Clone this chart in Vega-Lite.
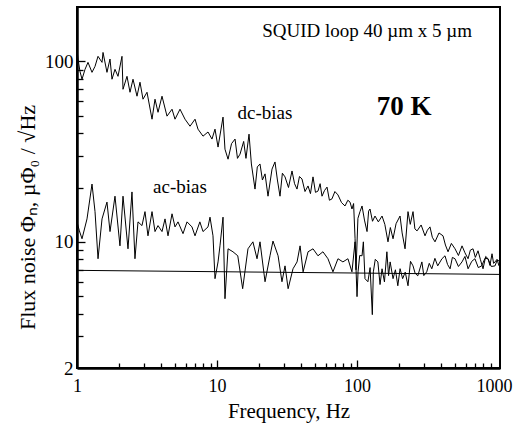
{
  "$schema": "https://vega.github.io/schema/vega-lite/v6.json",
  "autosize": {"type": "none"},
  "padding": {"left": 77, "top": 7, "right": 15, "bottom": 59},
  "width": 423,
  "height": 361,
  "background": "white",
  "config": {
    "view": {"stroke": "black", "strokeWidth": 2},
    "axis": {
      "grid": false,
      "ticks": false,
      "domainColor": "black",
      "domainWidth": 2.5,
      "tickColor": "black",
      "labelFont": "Liberation Serif",
      "labelFontSize": 19,
      "labelColor": "black",
      "titleFont": "Liberation Serif",
      "titleFontWeight": "normal",
      "titleColor": "black"
    }
  },
  "resolve": {"axis": {"x": "independent", "y": "independent"}},
  "datasets": {
    "curves": [
      {"s": "dc", "f": 1.0, "v": 116}, {"s": "dc", "f": 1.017, "v": 103}, {"s": "dc", "f": 1.05, "v": 88}, {"s": "dc", "f": 1.086, "v": 79.6},
      {"s": "dc", "f": 1.141, "v": 90.3}, {"s": "dc", "f": 1.198, "v": 98.7}, {"s": "dc", "f": 1.28, "v": 86.9}, {"s": "dc", "f": 1.345, "v": 93.8},
      {"s": "dc", "f": 1.413, "v": 106.6}, {"s": "dc", "f": 1.509, "v": 98.7}, {"s": "dc", "f": 1.534, "v": 112}, {"s": "dc", "f": 1.637, "v": 86.9},
      {"s": "dc", "f": 1.721, "v": 103}, {"s": "dc", "f": 1.778, "v": 79.6}, {"s": "dc", "f": 1.868, "v": 90.3}, {"s": "dc", "f": 1.963, "v": 82.6},
      {"s": "dc", "f": 2.096, "v": 106.6}, {"s": "dc", "f": 2.131, "v": 70.0}, {"s": "dc", "f": 2.276, "v": 82.6}, {"s": "dc", "f": 2.391, "v": 67.4},
      {"s": "dc", "f": 2.512, "v": 79.6}, {"s": "dc", "f": 2.683, "v": 64.1}, {"s": "dc", "f": 2.818, "v": 76.6}, {"s": "dc", "f": 2.961, "v": 61.7},
      {"s": "dc", "f": 3.162, "v": 67.4}, {"s": "dc", "f": 3.434, "v": 47.8}, {"s": "dc", "f": 3.607, "v": 61.7}, {"s": "dc", "f": 3.79, "v": 52.2},
      {"s": "dc", "f": 4.047, "v": 64.1}, {"s": "dc", "f": 4.394, "v": 49.7}, {"s": "dc", "f": 4.772, "v": 54.3}, {"s": "dc", "f": 5.012, "v": 47.8},
      {"s": "dc", "f": 5.441, "v": 54.3}, {"s": "dc", "f": 5.908, "v": 47.8}, {"s": "dc", "f": 6.415, "v": 43.7}, {"s": "dc", "f": 6.966, "v": 47.8},
      {"s": "dc", "f": 7.314, "v": 42.1}, {"s": "dc", "f": 7.943, "v": 38.5}, {"s": "dc", "f": 8.624, "v": 40.6}, {"s": "dc", "f": 9.206, "v": 37.1},
      {"s": "dc", "f": 9.676, "v": 42.1}, {"s": "dc", "f": 10.17, "v": 33.5}, {"s": "dc", "f": 11.04, "v": 49.1}, {"s": "dc", "f": 11.4, "v": 32.6},
      {"s": "dc", "f": 11.99, "v": 28.7}, {"s": "dc", "f": 12.7, "v": 35}, {"s": "dc", "f": 13.45, "v": 37.1}, {"s": "dc", "f": 14.0, "v": 29},
      {"s": "dc", "f": 14.6, "v": 30.6}, {"s": "dc", "f": 15.5, "v": 36}, {"s": "dc", "f": 16.1, "v": 29}, {"s": "dc", "f": 16.93, "v": 39.5},
      {"s": "dc", "f": 17.6, "v": 27}, {"s": "dc", "f": 18.68, "v": 19.6}, {"s": "dc", "f": 19.4, "v": 26}, {"s": "dc", "f": 20.28, "v": 27.0},
      {"s": "dc", "f": 21.1, "v": 22}, {"s": "dc", "f": 22.03, "v": 23.8}, {"s": "dc", "f": 23.13, "v": 17.9}, {"s": "dc", "f": 24.71, "v": 25.3},
      {"s": "dc", "f": 25.95, "v": 27.7}, {"s": "dc", "f": 27.0, "v": 22}, {"s": "dc", "f": 28.18, "v": 17.9}, {"s": "dc", "f": 29.3, "v": 24},
      {"s": "dc", "f": 30.6, "v": 22.9}, {"s": "dc", "f": 32.4, "v": 20}, {"s": "dc", "f": 34.33, "v": 24.7}, {"s": "dc", "f": 35.8, "v": 21},
      {"s": "dc", "f": 37.27, "v": 19.6}, {"s": "dc", "f": 38.8, "v": 23}, {"s": "dc", "f": 40.45, "v": 22.3}, {"s": "dc", "f": 42.5, "v": 19},
      {"s": "dc", "f": 44.67, "v": 20.4}, {"s": "dc", "f": 46.5, "v": 18.5}, {"s": "dc", "f": 48.49, "v": 22.9}, {"s": "dc", "f": 50.5, "v": 18.8},
      {"s": "dc", "f": 52.62, "v": 19.1}, {"s": "dc", "f": 54.5, "v": 21}, {"s": "dc", "f": 56.23, "v": 17.9}, {"s": "dc", "f": 58.5, "v": 19.2},
      {"s": "dc", "f": 61.05, "v": 20.1}, {"s": "dc", "f": 63.5, "v": 17.0}, {"s": "dc", "f": 66.24, "v": 17.3}, {"s": "dc", "f": 69.5, "v": 19},
      {"s": "dc", "f": 73.11, "v": 18.2}, {"s": "dc", "f": 77.5, "v": 16.5}, {"s": "dc", "f": 82.07, "v": 15.8}, {"s": "dc", "f": 86, "v": 17},
      {"s": "dc", "f": 89.13, "v": 16.6}, {"s": "dc", "f": 92.04, "v": 15.2}, {"s": "dc", "f": 94.5, "v": 16.3}, {"s": "dc", "f": 96.83, "v": 10.4},
      {"s": "dc", "f": 98.4, "v": 7.0}, {"s": "dc", "f": 101.5, "v": 13.5}, {"s": "dc", "f": 105.0, "v": 14.7}, {"s": "dc", "f": 108.6, "v": 15.8},
      {"s": "dc", "f": 113, "v": 13.2}, {"s": "dc", "f": 117.9, "v": 11.4}, {"s": "dc", "f": 121, "v": 14.8}, {"s": "dc", "f": 123.8, "v": 15.2},
      {"s": "dc", "f": 129, "v": 13.0}, {"s": "dc", "f": 134.4, "v": 13.9}, {"s": "dc", "f": 142, "v": 12.9}, {"s": "dc", "f": 150.9, "v": 13.9},
      {"s": "dc", "f": 158, "v": 12.5}, {"s": "dc", "f": 166.4, "v": 10.0}, {"s": "dc", "f": 173, "v": 12.0}, {"s": "dc", "f": 180.8, "v": 10.4},
      {"s": "dc", "f": 190, "v": 12.6}, {"s": "dc", "f": 202.9, "v": 13.9}, {"s": "dc", "f": 210, "v": 11.2}, {"s": "dc", "f": 220.3, "v": 9.15},
      {"s": "dc", "f": 231.3, "v": 14.7}, {"s": "dc", "f": 240, "v": 12.5}, {"s": "dc", "f": 251.2, "v": 14.7}, {"s": "dc", "f": 259, "v": 11.8},
      {"s": "dc", "f": 268.4, "v": 11.5}, {"s": "dc", "f": 287, "v": 12.4}, {"s": "dc", "f": 306.0, "v": 10.8}, {"s": "dc", "f": 318, "v": 11.6},
      {"s": "dc", "f": 332, "v": 12.1}, {"s": "dc", "f": 345, "v": 10.6}, {"s": "dc", "f": 360.6, "v": 10.0}, {"s": "dc", "f": 385, "v": 11.2},
      {"s": "dc", "f": 411.3, "v": 10.8}, {"s": "dc", "f": 428, "v": 9.6}, {"s": "dc", "f": 446.7, "v": 8.81}, {"s": "dc", "f": 472, "v": 9.8},
      {"s": "dc", "f": 501.2, "v": 9.15}, {"s": "dc", "f": 530, "v": 8.4}, {"s": "dc", "f": 562.3, "v": 9.5}, {"s": "dc", "f": 590, "v": 8.7},
      {"s": "dc", "f": 620.7, "v": 8.06}, {"s": "dc", "f": 645, "v": 9.0}, {"s": "dc", "f": 674, "v": 9.15}, {"s": "dc", "f": 700, "v": 8.2},
      {"s": "dc", "f": 731.6, "v": 8.92}, {"s": "dc", "f": 760, "v": 8.0}, {"s": "dc", "f": 794.3, "v": 7.09}, {"s": "dc", "f": 830, "v": 8.3},
      {"s": "dc", "f": 862.3, "v": 8.06}, {"s": "dc", "f": 890, "v": 7.4}, {"s": "dc", "f": 921, "v": 8.59}, {"s": "dc", "f": 945, "v": 7.6},
      {"s": "dc", "f": 968, "v": 7.74}, {"s": "dc", "f": 1000, "v": 8.0}, {"s": "dc", "f": 1033, "v": 7.36},

      {"s": "ac", "f": 1.0, "v": 12.9}, {"s": "ac", "f": 1.04, "v": 11.5}, {"s": "ac", "f": 1.086, "v": 10.4}, {"s": "ac", "f": 1.179, "v": 13.4},
      {"s": "ac", "f": 1.28, "v": 20.9}, {"s": "ac", "f": 1.345, "v": 14.7}, {"s": "ac", "f": 1.413, "v": 8.06}, {"s": "ac", "f": 1.509, "v": 13.4},
      {"s": "ac", "f": 1.637, "v": 16.6}, {"s": "ac", "f": 1.721, "v": 11.4}, {"s": "ac", "f": 1.868, "v": 17.9}, {"s": "ac", "f": 2.027, "v": 9.5},
      {"s": "ac", "f": 2.131, "v": 17.9}, {"s": "ac", "f": 2.313, "v": 9.15}, {"s": "ac", "f": 2.47, "v": 18.9}, {"s": "ac", "f": 2.594, "v": 8.06},
      {"s": "ac", "f": 2.727, "v": 12.9}, {"s": "ac", "f": 2.911, "v": 12.3}, {"s": "ac", "f": 3.059, "v": 14.7}, {"s": "ac", "f": 3.213, "v": 10.8},
      {"s": "ac", "f": 3.434, "v": 14.7}, {"s": "ac", "f": 3.607, "v": 11.4}, {"s": "ac", "f": 3.79, "v": 12.3}, {"s": "ac", "f": 4.047, "v": 11.4},
      {"s": "ac", "f": 4.253, "v": 13.4}, {"s": "ac", "f": 4.467, "v": 10.8}, {"s": "ac", "f": 4.772, "v": 14.3}, {"s": "ac", "f": 5.012, "v": 12.1},
      {"s": "ac", "f": 5.265, "v": 12.9}, {"s": "ac", "f": 5.718, "v": 11.1}, {"s": "ac", "f": 6.107, "v": 12.9}, {"s": "ac", "f": 6.623, "v": 12.1},
      {"s": "ac", "f": 6.966, "v": 10.8}, {"s": "ac", "f": 7.543, "v": 12.9}, {"s": "ac", "f": 7.943, "v": 11.4}, {"s": "ac", "f": 8.624, "v": 12.1},
      {"s": "ac", "f": 8.913, "v": 13.7}, {"s": "ac", "f": 9.361, "v": 10.8}, {"s": "ac", "f": 9.676, "v": 6.25}, {"s": "ac", "f": 10.17, "v": 7.74},
      {"s": "ac", "f": 10.5, "v": 9.5}, {"s": "ac", "f": 11.04, "v": 13.7}, {"s": "ac", "f": 11.4, "v": 4.84}, {"s": "ac", "f": 11.99, "v": 9.15},
      {"s": "ac", "f": 13.0, "v": 8.81}, {"s": "ac", "f": 14.07, "v": 8.37}, {"s": "ac", "f": 15.25, "v": 5.5}, {"s": "ac", "f": 16.64, "v": 9.15},
      {"s": "ac", "f": 18.05, "v": 10.0}, {"s": "ac", "f": 19.31, "v": 8.06}, {"s": "ac", "f": 20.28, "v": 10.0}, {"s": "ac", "f": 22.03, "v": 6.01},
      {"s": "ac", "f": 23.9, "v": 8.37}, {"s": "ac", "f": 25.1, "v": 10.1}, {"s": "ac", "f": 27.3, "v": 8.37}, {"s": "ac", "f": 29.1, "v": 6.01},
      {"s": "ac", "f": 30.6, "v": 7.36}, {"s": "ac", "f": 32.2, "v": 5.5}, {"s": "ac", "f": 34.9, "v": 7.09}, {"s": "ac", "f": 37.3, "v": 7.74},
      {"s": "ac", "f": 39.2, "v": 9.5}, {"s": "ac", "f": 41.2, "v": 6.82}, {"s": "ac", "f": 44.7, "v": 8.81}, {"s": "ac", "f": 48.5, "v": 9.15},
      {"s": "ac", "f": 52.6, "v": 8.37}, {"s": "ac", "f": 57.1, "v": 8.81}, {"s": "ac", "f": 62.0, "v": 8.06}, {"s": "ac", "f": 67.3, "v": 6.82},
      {"s": "ac", "f": 73.1, "v": 8.06}, {"s": "ac", "f": 79.3, "v": 7.74}, {"s": "ac", "f": 86.1, "v": 8.06}, {"s": "ac", "f": 92.0, "v": 6.82},
      {"s": "ac", "f": 96.8, "v": 10.0}, {"s": "ac", "f": 100, "v": 4.97}, {"s": "ac", "f": 101.7, "v": 6.82}, {"s": "ac", "f": 104.5, "v": 8.4},
      {"s": "ac", "f": 108.6, "v": 8.37}, {"s": "ac", "f": 111, "v": 10.0}, {"s": "ac", "f": 114, "v": 6.25}, {"s": "ac", "f": 119.6, "v": 6.01},
      {"s": "ac", "f": 124, "v": 7.2}, {"s": "ac", "f": 128.6, "v": 3.95}, {"s": "ac", "f": 130.8, "v": 6.82}, {"s": "ac", "f": 135, "v": 8.0},
      {"s": "ac", "f": 140.9, "v": 7.74}, {"s": "ac", "f": 146, "v": 5.8}, {"s": "ac", "f": 150.9, "v": 7.09}, {"s": "ac", "f": 157, "v": 6.0},
      {"s": "ac", "f": 163.4, "v": 8.81}, {"s": "ac", "f": 168, "v": 6.5}, {"s": "ac", "f": 172.4, "v": 7.74}, {"s": "ac", "f": 180.8, "v": 6.25},
      {"s": "ac", "f": 188, "v": 7.0}, {"s": "ac", "f": 195.6, "v": 5.71}, {"s": "ac", "f": 203, "v": 7.1}, {"s": "ac", "f": 211.7, "v": 6.25},
      {"s": "ac", "f": 221, "v": 6.8}, {"s": "ac", "f": 231.3, "v": 5.71}, {"s": "ac", "f": 241, "v": 7.8}, {"s": "ac", "f": 251.2, "v": 7.36},
      {"s": "ac", "f": 260, "v": 6.7}, {"s": "ac", "f": 271.6, "v": 6.48}, {"s": "ac", "f": 290.6, "v": 7.74}, {"s": "ac", "f": 300, "v": 6.5},
      {"s": "ac", "f": 314.7, "v": 6.82}, {"s": "ac", "f": 328, "v": 7.6}, {"s": "ac", "f": 342.1, "v": 7.09}, {"s": "ac", "f": 360, "v": 8.1},
      {"s": "ac", "f": 377, "v": 7.36}, {"s": "ac", "f": 404, "v": 8.06}, {"s": "ac", "f": 425, "v": 8.37}, {"s": "ac", "f": 443, "v": 7.5},
      {"s": "ac", "f": 462, "v": 7.09}, {"s": "ac", "f": 480, "v": 8.2}, {"s": "ac", "f": 501, "v": 8.06}, {"s": "ac", "f": 530, "v": 7.3},
      {"s": "ac", "f": 562, "v": 7.74}, {"s": "ac", "f": 590, "v": 8.3}, {"s": "ac", "f": 621, "v": 7.09}, {"s": "ac", "f": 660, "v": 7.8},
      {"s": "ac", "f": 695, "v": 8.06}, {"s": "ac", "f": 735, "v": 7.2}, {"s": "ac", "f": 777, "v": 7.36}, {"s": "ac", "f": 820, "v": 8.1},
      {"s": "ac", "f": 862, "v": 8.06}, {"s": "ac", "f": 910, "v": 7.3}, {"s": "ac", "f": 968, "v": 7.36}, {"s": "ac", "f": 1000, "v": 7.9},
      {"s": "ac", "f": 1033, "v": 7.85},

      {"s": "ref", "f": 1, "v": 6.95}, {"s": "ref", "f": 1050, "v": 6.6}
    ],
    "notes": [
      {"f": 117.9, "v": 148, "label": "SQUID loop 40 µm x 5 µm"},
      {"f": 22.0, "v": 52.0, "label": "dc-bias"},
      {"f": 5.44, "v": 20.1, "label": "ac-bias"}
    ],
    "temp": [
      {"f": 216.6, "v": 55.7, "label": "70 K"}
    ],
    "xt": [
      {"t": 2}, {"t": 3}, {"t": 4}, {"t": 5}, {"t": 6}, {"t": 7}, {"t": 8}, {"t": 9}, {"t": 10},
      {"t": 20}, {"t": 30}, {"t": 40}, {"t": 50}, {"t": 60}, {"t": 70}, {"t": 80}, {"t": 90}, {"t": 100},
      {"t": 200}, {"t": 300}, {"t": 400}, {"t": 500}, {"t": 600}, {"t": 700}, {"t": 800}, {"t": 900}
    ],
    "yt": [
      {"t": 3}, {"t": 4}, {"t": 5}, {"t": 6}, {"t": 7}, {"t": 8}, {"t": 9}, {"t": 10},
      {"t": 20}, {"t": 30}, {"t": 40}, {"t": 50}, {"t": 60}, {"t": 70}, {"t": 80}, {"t": 90}, {"t": 100}
    ]
  },
  "layer": [
    {
      "data": {"name": "curves"},
      "mark": {"type": "line", "color": "black", "strokeWidth": 1, "clip": true},
      "encoding": {
        "x": {
          "field": "f", "type": "quantitative",
          "scale": {"type": "log", "domain": [1, 1050], "nice": false},
          "axis": {
            "orient": "bottom",
            "values": [1, 10, 100, 1000],
            "format": "d",
            "labelPadding": 9,
            "labelFontSize": 18,
            "labelOffset": {"condition": {"test": "datum.value == 1000", "value": -3}, "value": 0},
            "labelFlush": false,
            "labelOverlap": false,
            "title": "Frequency,  Hz",
            "titleFontSize": 21,
            "titlePadding": 5
          }
        },
        "y": {
          "field": "v", "type": "quantitative",
          "scale": {"type": "log", "domain": [2, 200], "nice": false},
          "axis": {
            "values": [2, 10, 100],
            "format": "d",
            "labelPadding": 4,
            "labelFlush": false,
            "labelOverlap": false,
            "title": "Flux noise  Φₙ,  µΦ₀ / √Hz",
            "titleFontSize": 22,
            "titleY": 210,
            "titlePadding": 5
          }
        },
        "detail": {"field": "s", "type": "nominal"}
      }
    },
    {
      "data": {"name": "xt"},
      "mark": {"type": "point", "opacity": 0},
      "encoding": {
        "x": {
          "field": "t", "type": "quantitative",
          "axis": {
            "orient": "top",
            "offset": -361,
            "values": [2, 3, 4, 5, 6, 7, 8, 9, 10, 20, 30, 40, 50, 60, 70, 80, 90, 100, 200, 300, 400, 500, 600, 700, 800, 900],
            "labels": false,
            "domain": false,
            "ticks": true,
            "tickWidth": 1.3,
            "tickSize": {"condition": {"test": "datum.value == 10 || datum.value == 100", "value": 8}, "value": 5},
            "title": null
          }
        },
        "y": {"datum": 2, "axis": null}
      }
    },
    {
      "data": {"name": "yt"},
      "mark": {"type": "point", "opacity": 0},
      "encoding": {
        "y": {
          "field": "t", "type": "quantitative",
          "axis": {
            "orient": "right",
            "offset": -423,
            "values": [3, 4, 5, 6, 7, 8, 9, 10, 20, 30, 40, 50, 60, 70, 80, 90, 100],
            "labels": false,
            "domain": false,
            "ticks": true,
            "tickWidth": 1.3,
            "tickSize": {"condition": {"test": "datum.value == 10 || datum.value == 100", "value": 8}, "value": 6},
            "title": null
          }
        },
        "x": {"datum": 1, "axis": null}
      }
    },
    {
      "data": {"name": "notes"},
      "mark": {"type": "text", "font": "Liberation Serif", "fontSize": 19, "color": "black", "align": "center", "baseline": "middle"},
      "encoding": {
        "x": {"field": "f", "type": "quantitative", "axis": null},
        "y": {"field": "v", "type": "quantitative", "axis": null},
        "text": {"field": "label", "type": "nominal"}
      }
    },
    {
      "data": {"name": "temp"},
      "mark": {"type": "text", "font": "Liberation Serif", "fontSize": 27, "fontWeight": "bold", "color": "black", "align": "center", "baseline": "middle"},
      "encoding": {
        "x": {"field": "f", "type": "quantitative", "axis": null},
        "y": {"field": "v", "type": "quantitative", "axis": null},
        "text": {"field": "label", "type": "nominal"}
      }
    }
  ]
}
